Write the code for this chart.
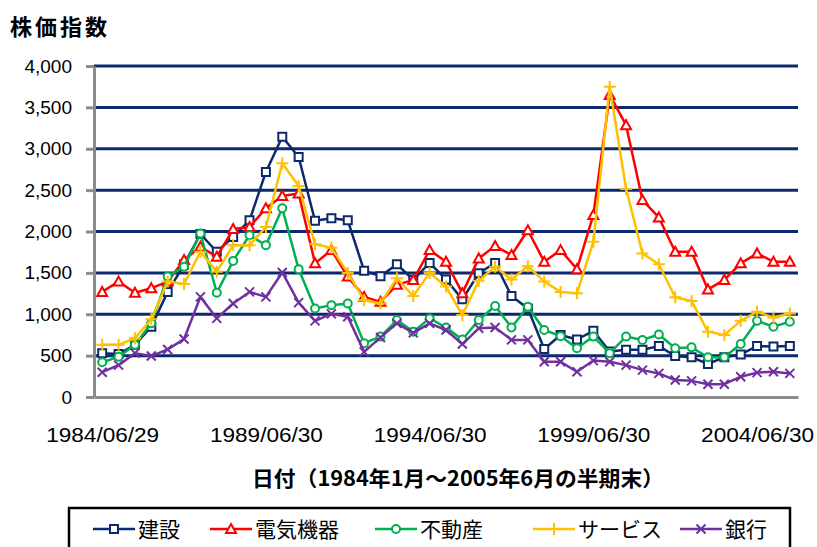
<!DOCTYPE html>
<html>
<head>
<meta charset="utf-8">
<script src="https://cdn.jsdelivr.net/npm/d3@7"></script>
<style>
  body { margin: 0; background: #fff; }
  text { font-family: "Liberation Sans", Arial, sans-serif; }
  .jp { font-family: "Noto Sans CJK JP", "Noto Sans", sans-serif; }
</style>
</head>
<body>
<div id="chart"></div>
<script>
// Data: half-year end index values, 1984/06 .. 2005/06

var periods = [
  "1984/06", "1984/12", "1985/06", "1985/12", "1986/06", "1986/12", "1987/06", "1987/12",
  "1988/06", "1988/12", "1989/06", "1989/12", "1990/06", "1990/12", "1991/06", "1991/12",
  "1992/06", "1992/12", "1993/06", "1993/12", "1994/06", "1994/12", "1995/06", "1995/12",
  "1996/06", "1996/12", "1997/06", "1997/12", "1998/06", "1998/12", "1999/06", "1999/12",
  "2000/06", "2000/12", "2001/06", "2001/12", "2002/06", "2002/12", "2003/06", "2003/12",
  "2004/06", "2004/12", "2005/06"
];

var kensetsu = [530, 520, 630, 850, 1270, 1600, 1970, 1755, 1935, 2135, 2720, 3145, 2900, 2130, 2160,
  2135, 1525, 1460, 1605, 1415, 1620, 1420, 1180, 1495, 1620, 1220, 1070, 580, 750, 695,
  800, 550, 570, 570, 615, 495, 480, 400, 480, 515, 615, 610, 615];

var denki = [1270, 1395, 1260, 1315, 1395, 1655, 1815, 1695, 2030, 2055, 2280, 2430, 2460, 1615, 1775,
  1455, 1210, 1150, 1355, 1415, 1775, 1635, 1255, 1675, 1825, 1715, 2015, 1635, 1775, 1545,
  2200, 3650, 3285, 2380, 2170, 1755, 1755, 1300, 1415, 1615, 1735, 1635, 1635];

var fudosan = [420, 485, 630, 890, 1455, 1575, 1975, 1260, 1645, 1955, 1835, 2280, 1545, 1070, 1110,
  1130, 650, 730, 930, 790, 950, 840, 695, 930, 1100, 840, 1090, 810, 735, 590,
  730, 530, 730, 690, 755, 590, 600, 480, 480, 640, 920, 850, 910];

var service = [630, 630, 710, 940, 1395, 1365, 1755, 1515, 1835, 1835, 2055, 2825, 2550, 1845, 1805,
  1500, 1170, 1130, 1435, 1220, 1500, 1335, 990, 1405, 1575, 1420, 1580, 1395, 1270, 1255,
  1875, 3750, 2515, 1735, 1605, 1205, 1160, 790, 750, 920, 1030, 960, 1010];

var ginko = [300, 385, 530, 495, 575, 700, 1210, 950, 1130, 1270, 1210, 1505, 1140, 920, 1005,
  970, 545, 720, 890, 775, 890, 810, 640, 830, 840, 690, 690, 425, 425, 305,
  440, 425, 385, 325, 285, 205, 195, 155, 155, 245, 295, 305, 285];

var seriesNames = ["建設", "電気機器", "不動産", "サービス", "銀行"];
var seriesColors = ["#0c2a6b", "#ff0000", "#00b050", "#ffc000", "#7030a0"];
var seriesMarkers = ["square", "triangle", "circle", "plus", "x"];

var xTickIndex = [0, 10, 20, 30, 40];
var xTickLabels = ["1984/06/29", "1989/06/30", "1994/06/30", "1999/06/30", "2004/06/30"];
var yTicks = [0, 500, 1000, 1500, 2000, 2500, 3000, 3500, 4000];

var allSeries = [kensetsu, denki, fudosan, service, ginko];

// canvas
var width = 817;
var height = 547;

var plotLeft = 94;
var plotRight = 798;
var plotTop = 66;
var plotBottom = 397;

var svg = d3
  .select("#chart")
  .append("svg")
  .attr("width", width)
  .attr("height", height);

svg.append("rect").attr("width", width).attr("height", height).attr("fill", "#fff");

// scales
var xScale = d3
  .scalePoint()
  .domain(d3.range(periods.length))
  .range([plotLeft, plotRight])
  .padding(0.5);

var yScale = d3
  .scaleLinear()
  .domain([0, 4000])
  .range([plotBottom, plotTop]);

// grid lines
svg
  .append("g")
  .selectAll("line")
  .data(yTicks.filter(function (d) { return d > 0; }))
  .enter()
  .append("line")
  .attr("x1", plotLeft)
  .attr("x2", plotRight)
  .attr("y1", function (d) { return yScale(d); })
  .attr("y2", function (d) { return yScale(d); })
  .attr("stroke", "#0c2a6b")
  .attr("stroke-width", 3);

// y axis
var yAxis = d3
  .axisLeft(yScale)
  .tickValues(yTicks)
  .tickFormat(d3.format(","))
  .tickSize(8)
  .tickSizeOuter(0)
  .tickPadding(14);

var yG = svg
  .append("g")
  .attr("transform", "translate(" + plotLeft + ",0)")
  .call(yAxis);

yG.select(".domain").attr("stroke", "#8c8c8c").attr("stroke-width", 3);
yG.selectAll(".tick line").attr("stroke", "#8c8c8c").attr("stroke-width", 3);
yG.selectAll(".tick text")
  .attr("font-size", 19)
  .attr("fill", "#000")
  .attr("font-family", "Liberation Sans, Arial, sans-serif");

// x axis
var xAxis = d3
  .axisBottom(xScale)
  .tickValues(xTickIndex)
  .tickFormat(function (d, i) { return xTickLabels[i]; })
  .tickSize(0)
  .tickSizeOuter(0)
  .tickPadding(31);

var xG = svg
  .append("g")
  .attr("transform", "translate(0," + plotBottom + ")")
  .call(xAxis);

xG.select(".domain").attr("stroke", "#8c8c8c").attr("stroke-width", 3);
xG.selectAll(".tick text")
  .attr("font-size", 20)
  .attr("fill", "#000")
  .attr("font-family", "Liberation Sans, Arial, sans-serif")
  .attr("textLength", 113)
  .attr("lengthAdjust", "spacingAndGlyphs");

// axis titles
svg
  .append("text")
  .attr("class", "jp")
  .attr("x", 10)
  .attr("y", 35)
  .attr("font-size", 22)
  .attr("font-weight", "bold")
  .attr("letter-spacing", 3)
  .text("株価指数");

svg
  .append("text")
  .attr("class", "jp")
  .attr("x", 458)
  .attr("y", 486)
  .attr("text-anchor", "middle")
  .attr("font-size", 21)
  .attr("font-weight", "bold")
  .attr("textLength", 412)
  .attr("lengthAdjust", "spacingAndGlyphs")
  .text("日付（1984年1月～2005年6月の半期末）");

// marker shapes
function markerPath(type, cx, cy) {
  var s;
  if (type === "square") {
    s = 4;
    return "M" + (cx - s) + "," + (cy - s) + "h" + 2 * s + "v" + 2 * s + "h" + -2 * s + "Z";
  }
  if (type === "triangle") {
    s = 5;
    return "M" + cx + "," + (cy - s) + "L" + (cx + s) + "," + (cy + s * 0.8) + "L" + (cx - s) + "," + (cy + s * 0.8) + "Z";
  }
  if (type === "circle") {
    s = 4;
    return "M" + (cx + s) + "," + cy + "A" + s + "," + s + " 0 1,1 " + (cx - s) + "," + cy + "A" + s + "," + s + " 0 1,1 " + (cx + s) + "," + cy;
  }
  if (type === "plus") {
    s = 6;
    return "M" + (cx - s) + "," + cy + "H" + (cx + s) + "M" + cx + "," + (cy - s) + "V" + (cy + s);
  }
  s = 4.5;
  return "M" + (cx - s) + "," + (cy - s) + "L" + (cx + s) + "," + (cy + s) + "M" + (cx + s) + "," + (cy - s) + "L" + (cx - s) + "," + (cy + s);
}

var line = d3
  .line()
  .x(function (d, i) { return xScale(i); })
  .y(function (d) { return yScale(d); });

// series
allSeries.forEach(function (values, k) {
  var g = svg.append("g").attr("class", "series");
  var col = seriesColors[k];
  var mk = seriesMarkers[k];

  g.append("path")
    .datum(values)
    .attr("d", line)
    .attr("fill", "none")
    .attr("stroke", col)
    .attr("stroke-width", 2.5)
    .attr("stroke-linejoin", "round");

  g.selectAll("path.mark")
    .data(values)
    .enter()
    .append("path")
    .attr("class", "mark")
    .attr("d", function (d, i) { return markerPath(mk, xScale(i), yScale(d)); })
    .attr("fill", (mk === "plus" || mk === "x") ? "none" : "#fff")
    .attr("stroke", col)
    .attr("stroke-width", 2);
});

// legend
svg
  .append("rect")
  .attr("x", 69)
  .attr("y", 508)
  .attr("width", 721)
  .attr("height", 60)
  .attr("fill", "#fff")
  .attr("stroke", "#000")
  .attr("stroke-width", 2.5);

var legendX = [93, 210, 375, 533, 680];
var legendY = 529;

seriesNames.forEach(function (name, k) {
  var lg = svg.append("g").attr("transform", "translate(" + legendX[k] + "," + legendY + ")");
  lg.append("line")
    .attr("x1", 0)
    .attr("x2", 42)
    .attr("y1", 0)
    .attr("y2", 0)
    .attr("stroke", seriesColors[k])
    .attr("stroke-width", 2.5);
  lg.append("path")
    .attr("d", markerPath(seriesMarkers[k], 21, 0))
    .attr("fill", (seriesMarkers[k] === "plus" || seriesMarkers[k] === "x") ? "none" : "#fff")
    .attr("stroke", seriesColors[k])
    .attr("stroke-width", 2);
  lg.append("text")
    .attr("class", "jp")
    .attr("x", 45)
    .attr("y", 8)
    .attr("font-size", 21)
    .attr("fill", "#000")
    .text(name);
});
</script>
</body>
</html>
